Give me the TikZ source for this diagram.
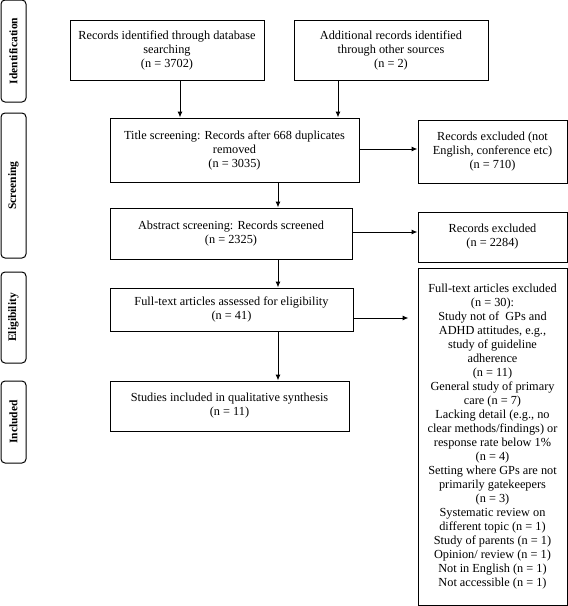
\documentclass[tikz,border=0pt]{standalone}
\usepackage{fontspec}
\setmainfont{Liberation Serif}
\usetikzlibrary{arrows.meta}
\begin{document}
\begin{tikzpicture}[x=1pt,y=-1pt,
  box/.style={draw, line width=1pt, rectangle, inner sep=0pt, align=center,
    font=\fontsize{12.3}{14}\selectfont},
  phase/.style={draw, line width=1pt, rounded corners=4pt, inner sep=0pt,
    minimum width=25pt, font=\bfseries\fontsize{11.5}{14}\selectfont},
  arr/.style={line width=1pt, -{Latex[length=6pt,width=5pt]}}]
\useasboundingbox (0,0) rectangle (568,606);

% phase labels
\node[phase, minimum height=102pt] (pid) at (13.5,51) {\rotatebox{90}{Identification}};
\node[phase, minimum height=145pt] (psc) at (13.5,185.5) {\rotatebox{90}{Screening}};
\node[phase, minimum height=91pt] (pel) at (13.5,317.5) {\rotatebox{90}{Eligibility}};
\node[phase, minimum height=82pt] (pin) at (13.5,422) {\rotatebox{90}{Included}};

% boxes
\node[box, minimum width=194pt, minimum height=60pt] (b1) at (167,50)
  {Records identified through database\\searching\\(n = 3702)};
\node[box, minimum width=194pt, minimum height=60pt] (b2) at (391,50)
  {Additional records identified\\through other sources\\(n = 2)};
\node[box, minimum width=249pt, minimum height=64pt] (title) at (234.5,150)
  {Title screening: Records after 668 duplicates\\removed\\(n = 3035)};
\node[box, minimum width=149pt, minimum height=63pt] (ex1) at (492.5,151.5)
  {Records excluded (not\\English, conference etc)\\(n = 710)};
\node[box, minimum width=242pt, minimum height=51pt] (abs) at (231,233.5)
  {Abstract screening: Records screened\\(n = 2325)};
\node[box, minimum width=149pt, minimum height=50pt] (ex2) at (492.5,237)
  {Records excluded\\(n = 2284)};
\node[box, minimum width=243pt, minimum height=43pt] (ft) at (231.5,309.5)
  {Full-text articles assessed for eligibility\\(n = 41)};
\node[box, minimum width=149pt, minimum height=337pt] (ex3) at (492.5,436.5)
  {Full-text articles excluded\\(n = 30):\\Study not of \ GPs and\\ADHD attitudes, e.g.,\\study of guideline\\adherence\\(n = 11)\\General study of primary\\care (n = 7)\\Lacking detail (e.g., no\\clear methods/findings) or\\response rate below 1\%\\(n = 4)\\Setting where GPs are not\\primarily gatekeepers\\(n = 3)\\Systematic review on\\different topic (n = 1)\\Study of parents (n = 1)\\Opinion/ review (n = 1)\\Not in English (n = 1)\\Not accessible (n = 1)};
\node[box, minimum width=239pt, minimum height=50pt] (inc) at (229.5,406)
  {Studies included in qualitative synthesis\\(n = 11)};

% connectors
\draw[arr] (b1.south -| 180,0) -- (title.north -| 180,0);
\draw[arr] (b2.south -| 338,0) -- (title.north -| 338,0);
\draw[arr] (title.east |- 0,149) -- (ex1.west |- 0,149);
\draw[arr] (title.south -| 278,0) -- (abs.north -| 278,0);
\draw[arr] (abs.east |- 0,232) -- (ex2.west |- 0,232);
\draw[arr] (abs.south -| 278,0) -- (ft.north -| 278,0);
\draw[arr, shorten >=9pt] (ft.east |- 0,318) -- (ex3.west |- 0,318);
\draw[arr] (ft.south -| 278,0) -- (inc.north -| 278,0);
\end{tikzpicture}
\end{document}
